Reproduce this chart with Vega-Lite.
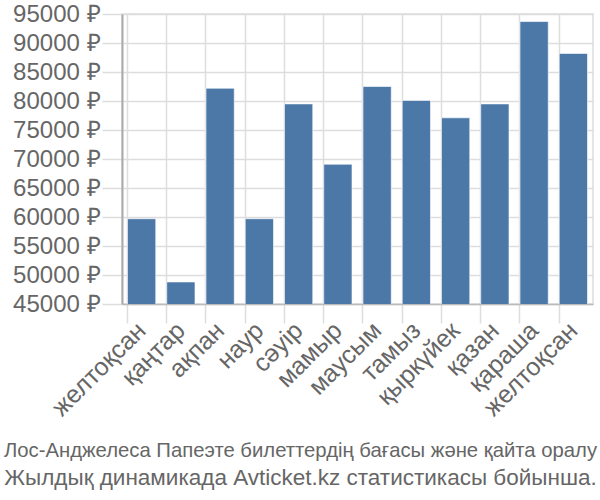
{
  "$schema": "https://vega.github.io/schema/vega-lite/v6.json",
  "width": 471,
  "height": 290,
  "autosize": {"type": "none"},
  "padding": {"left": 122, "top": 14, "right": 7, "bottom": 196},
  "background": "white",
  "config": {
    "font": "Liberation Sans",
    "view": {"stroke": "#dddddd", "strokeWidth": 1.5}
  },
  "title": {
    "text": "Лос-Анджелеса Папеэте билеттердің бағасы және қайта оралу",
    "subtitle": "Жылдық динамикада Avticket.kz статистикасы бойынша.",
    "orient": "bottom",
    "anchor": "middle",
    "font": "Liberation Sans",
    "fontSize": 20.3,
    "fontWeight": "normal",
    "color": "#666666",
    "subtitleFont": "Liberation Sans",
    "subtitleFontSize": 22.5,
    "subtitleColor": "#666666",
    "subtitlePadding": 5,
    "offset": 21,
    "dx": -57
  },
  "data": {
    "values": [
      {"m": "01|желтоқсан", "price": 59700},
      {"m": "02|қаңтар", "price": 48800},
      {"m": "03|ақпан", "price": 82200},
      {"m": "04|наур", "price": 59700},
      {"m": "05|сәуір", "price": 79500},
      {"m": "06|мамыр", "price": 69100},
      {"m": "07|маусым", "price": 82500},
      {"m": "08|тамыз", "price": 80100},
      {"m": "09|қыркүйек", "price": 77100},
      {"m": "10|қазан", "price": 79500},
      {"m": "11|қараша", "price": 93700},
      {"m": "12|желтоқсан", "price": 88200}
    ]
  },
  "mark": {"type": "bar", "color": "#4c78a8", "stroke": "#ffffff", "strokeWidth": 1, "strokeOpacity": 0.6, "clip": true},
  "encoding": {
    "x": {
      "field": "m",
      "type": "nominal",
      "sort": null,
      "title": null,
      "scale": {"paddingInner": 0.28, "paddingOuter": 0.14},
      "axis": {
        "labelExpr": "split(datum.value, '|')[1]",
        "labelAngle": -45,
        "labelAlign": "right",
        "labelBaseline": "middle",
        "labelFontSize": 25,
        "labelColor": "#666666",
        "labelPadding": 3,
        "bandPosition": 0,
        "tickSize": 19,
        "tickColor": "#dddddd",
        "tickWidth": 1.5,
        "gridColor": "#dddddd",
        "gridWidth": 1.5,
        "grid": true,
        "domainColor": "#bbbbbb",
        "domainWidth": 1.5
      }
    },
    "y": {
      "field": "price",
      "type": "quantitative",
      "title": null,
      "scale": {"domain": [45000, 95000], "zero": false, "nice": false},
      "axis": {
        "values": [45000, 50000, 55000, 60000, 65000, 70000, 75000, 80000, 85000, 90000, 95000],
        "labelExpr": "datum.value + ' ₽'",
        "labelFontSize": 24,
        "labelColor": "#666666",
        "labelPadding": 2,
        "tickSize": 20,
        "tickColor": "#dddddd",
        "tickWidth": 1.5,
        "gridColor": "#dddddd",
        "gridWidth": 1.5,
        "domainColor": "#aaaaaa",
        "domainWidth": 2
      }
    }
  }
}
